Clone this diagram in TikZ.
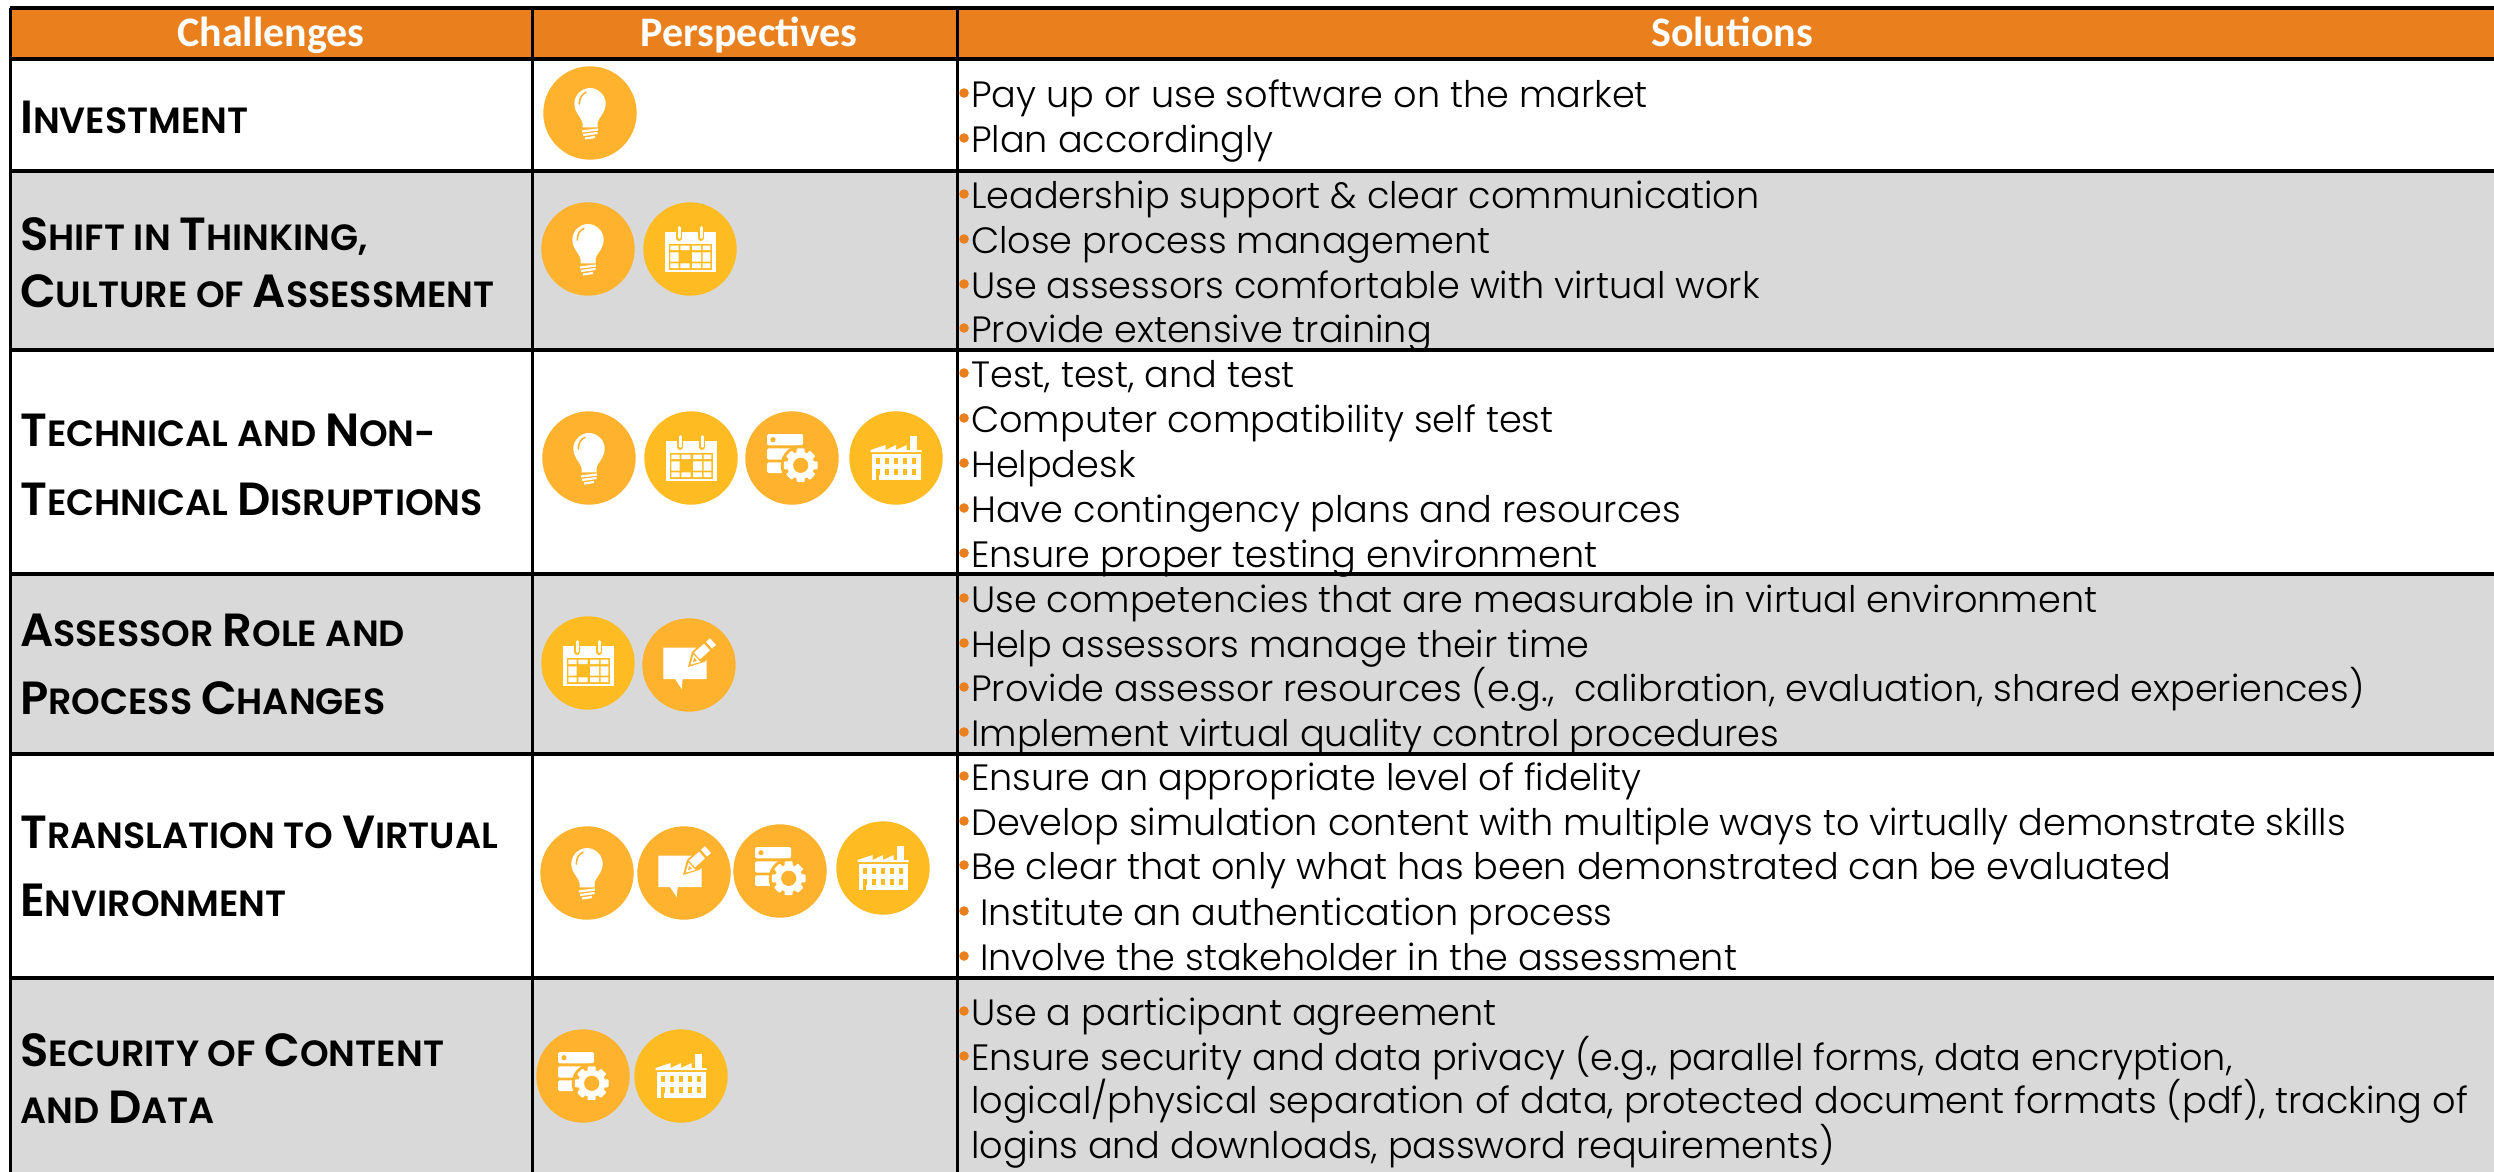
\documentclass[tikz,border=0pt]{standalone}
\usepackage{fontspec}
\setmainfont{Poppins}[UprightFont=* Light,BoldFont=* SemiBold]
\newfontfamily\headfont{Carlito}
\definecolor{headorange}{HTML}{EA7F1E}
\definecolor{rowgray}{HTML}{D9D9D9}
\definecolor{amberA}{HTML}{FFB22E}
\definecolor{amberB}{HTML}{FFBB22}
\newcommand\bigc[1]{{\fontsize{46.5}{47}\selectfont #1}}
\newcommand\sol[3]{\node[soltext] (#1) at (971,#2) {#3};\node[soldot] at (964,#2-14) {};}
\newcommand\solx[3]{\node[soltext] (#1) at (980,#2) {#3};\node[soldot] at (964,#2-14) {};}
\tikzset{
  x=1pt,y=-1pt,
  soltext/.style={anchor=base west,inner sep=0pt,font=\fontsize{36.6}{40}\selectfont,text=black},
  soldot/.style={circle,fill=headorange,inner sep=0pt,minimum size=9.6pt},
  headtext/.style={anchor=base,inner sep=0pt,font=\headfont\bfseries\fontsize{42}{44}\selectfont,text=white},
  rowlabel/.style={anchor=base west,inner sep=0pt,font=\bfseries\fontsize{36.5}{42}\selectfont,text=black},
  gridline/.style={black,line width=3.4pt},
  bulbicon/.pic={
    \fill[amberA] (0,0) circle (46.7);
    \fill[white] (-7.5,14.3) -- (-7.5,10) .. controls (-8,5) and (-15.7,0) .. (-15.7,-9.5)
      .. controls (-15.7,-18) and (-8,-25) .. (0,-25) .. controls (8,-25) and (15.7,-18) .. (15.7,-9.5)
      .. controls (15.7,0) and (8,5) .. (7.5,10) -- (7.5,14.3) -- cycle;
    \draw[amberA,line width=1.6pt,line cap=round] (-10.7,-9) .. controls (-10.7,-15) and (-8,-19) .. (-4,-20.7);
    \draw[white,line width=2.2pt] (-8,18.5) -- (8,16.5) (-7,22) -- (7.5,20) (-5,25.5) -- (5,24);
  },
  calicon/.pic={
    \fill[amberB] (0,0) circle (46.7);
    \fill[white] (-25.5,-16.7) rectangle (25.5,23.3);
    \fill[amberB] (-21.3,-5) rectangle (21.7,21);
    \fill[white] (-19.7,-3.3) rectangle (-11.3,1) (-9.7,-3.3) rectangle (-.3,1) (2,-3.3) rectangle (11,1) (12.7,-3.3) rectangle (20.3,1);
    \fill[white] (-19.7,3.3) rectangle (-11.3,12.7) (2,3.3) rectangle (11,12.7) (12.7,3.3) rectangle (20.3,12.7);
    \fill[white] (-19.7,14.3) rectangle (-11.3,19) (-9.7,14.3) rectangle (-.3,19) (2,14.3) rectangle (11,19) (12.7,14.3) rectangle (20.3,19);
    \foreach \rx in {-11,11}{
      \draw[amberB,line width=6pt,line cap=round] (\rx,-21) -- (\rx,-11);
      \draw[white,line width=3pt,line cap=round] (\rx,-21.5) -- (\rx,-11.5);
    }
  },
  gearicon/.pic={
    \fill[amberA] (0,0) circle (46.7);
    \fill[white,rounded corners=1.5pt] (-25,-24) rectangle (11,-12.7);
    \fill[amberA] (-19,-18.3) circle (2.6);
    \fill[white,rounded corners=1.5pt] (-25,-9.7) rectangle (2,1.7);
    \fill[white,rounded corners=1.5pt] (-25,4.3) rectangle (-5,15);
    \fill[amberA] (8.7,7.3) circle (20);
    \foreach \a in {0,45,...,315}{
      \fill[white,rounded corners=1pt,rotate around={\a:(8.7,7.3)}] (4.7,-9.6) rectangle (12.7,-0);
    }
    \fill[white] (8.7,7.3) circle (13.6);
    \fill[amberA] (8.7,7.3) circle (7.6);
  },
  facicon/.pic={
    \fill[amberB] (0,0) circle (46.7);
    \fill[white] (14,-22) rectangle (20.7,-7);
    \fill[white] (-25.5,-8) -- (-10.3,-13) -- (-10.3,-8) -- (0,-13) -- (0,-8) -- (10.7,-13) -- (10.7,-8) -- (25.7,-8) -- (25.7,-6) -- (-25.5,-6) -- cycle;
    \fill[white] (-24.3,-4.5) rectangle (25,21.7);
    \foreach \wx in {-18.5,-9.5,-.5,8.5,17.5}{
      \fill[amberB] (\wx-2,0) rectangle (\wx+2,5.5);
      \fill[amberB] (\wx-2,11) rectangle (\wx+2,16.5);
    }
    \fill[amberB] (-20,11) rectangle (-17.5,21.7);
  },
  penicon/.pic={
    \fill[amberA] (0,0) circle (46.7);
    \fill[white] (-25.7,-17.3) -- (17.7,-17.3) -- (17.7,14) -- (-6.3,14) -- (-7.3,24) -- (-14,14) -- (-25.7,14) -- cycle;
    \fill[amberA] (-1,2) -- (3,-13) -- (13,-23) -- (27,-23) -- (27,-12) -- (15,-3) -- cycle;
    \draw[white,line width=9pt] (8,-9) -- (18,-18);
    \draw[white,line width=9pt] (20,-19.8) -- (24,-23.4);
    \fill[white] (1.5,-.3) -- (4.5,-10.5) -- (11.5,-3) -- cycle;
    \fill[amberA] (4,-3) -- (5.3,-7) -- (8,-4.2) -- cycle;
  },
}
\begin{document}
\begin{tikzpicture}
\useasboundingbox (0,0) rectangle (2494,1172);
% bands
\fill[white] (0,0) rectangle (2494,1172);
\fill[headorange] (10,8) rectangle (2494,59);
\fill[rowgray] (10,171) rectangle (2494,350);
\fill[rowgray] (10,574) rectangle (2494,754);
\fill[rowgray] (10,978) rectangle (2494,1172);
% grid
\foreach \gy in {8,59,171,350,574,754,978}{\draw[gridline] (10,\gy) -- (2494,\gy);}
\foreach \gx in {10,532,957}{\draw[gridline,line width=3pt] (\gx,8) -- (\gx,1172);}
% header
\node[headtext] (h1) at (271,47) {Challenges};
\node[headtext] (h2) at (749,47) {Perspectives};
\node[headtext] (h3) at (1732,47) {Solutions};
% row labels
\node[rowlabel] (l1) at (20,133) {\bigc{I}NVESTMENT};
\node[rowlabel] (l2a) at (20,250) {\bigc{S}HIFT IN \bigc{T}HINKING,};
\node[rowlabel] (l2b) at (20,307) {\bigc{C}ULTURE OF \bigc{A}SSESSMENT};
\node[rowlabel] (l3a) at (20,446) {\bigc{T}ECHNICAL AND \bigc{N}ON-};
\node[rowlabel] (l3b) at (20,515) {\bigc{T}ECHNICAL \bigc{D}ISRUPTIONS};
\node[rowlabel] (l4a) at (20,646) {\bigc{A}SSESSOR \bigc{R}OLE AND};
\node[rowlabel] (l4b) at (20,714) {\bigc{P}ROCESS \bigc{C}HANGES};
\node[rowlabel] (l5a) at (20,848) {\bigc{T}RANSLATION TO \bigc{V}IRTUAL};
\node[rowlabel] (l5b) at (20,916) {\bigc{E}NVIRONMENT};
\node[rowlabel] (l6a) at (20,1066) {\bigc{S}ECURITY OF \bigc{C}ONTENT};
\node[rowlabel] (l6b) at (20,1123) {AND \bigc{D}ATA};
% icons
\pic at (590,113) {bulbicon};
\pic at (588,249) {bulbicon};
\pic at (690,249) {calicon};
\pic at (589,458) {bulbicon};
\pic at (691,458) {calicon};
\pic at (792,458) {gearicon};
\pic at (896,458) {facicon};
\pic at (588,663) {calicon};
\pic at (689,665) {penicon};
\pic at (587,873) {bulbicon};
\pic at (684,873) {penicon};
\pic at (780,871) {gearicon};
\pic at (883,868) {facicon};
\pic at (583,1076) {gearicon};
\pic at (681,1076) {facicon};
% solutions
\sol{s1a}{107}{Pay up or use software on the market}
\sol{s1b}{152}{Plan accordingly}
\sol{s2a}{208}{Leadership support \& clear communication}
\sol{s2b}{253}{Close process management}
\sol{s2c}{298}{Use assessors comfortable with virtual work}
\sol{s2d}{342}{Provide extensive training}
\sol{s3a}{387}{Test, test, and test}
\sol{s3b}{432}{Computer compatibility self test}
\sol{s3c}{477}{Helpdesk}
\sol{s3d}{522}{Have contingency plans and resources}
\sol{s3e}{567}{Ensure proper testing environment}
\sol{s4a}{612}{Use competencies that are measurable in virtual environment}
\sol{s4b}{657}{Help assessors manage their time}
\sol{s4c}{701}{Provide assessor resources (e.g.,~ calibration, evaluation, shared experiences)}
\sol{s4d}{746}{Implement virtual quality control procedures}
\sol{s5a}{790}{Ensure an appropriate level of fidelity}
\sol{s5b}{835}{Develop simulation content with multiple ways to virtually demonstrate skills}
\sol{s5c}{879}{Be clear that only what has been demonstrated can be evaluated}
\solx{s5d}{925}{Institute an authentication process}
\solx{s5e}{970}{Involve the stakeholder in the assessment}
\sol{s6a}{1025}{Use a participant agreement}
\sol{s6b}{1070}{Ensure security and data privacy (e.g., parallel forms, data encryption,}
\node[soltext] (s6c) at (971,1113) {logical/physical separation of data, protected document formats (pdf), tracking of};
\node[soltext] (s6d) at (971,1158) {logins and downloads, password requirements)};
\end{tikzpicture}
\end{document}
